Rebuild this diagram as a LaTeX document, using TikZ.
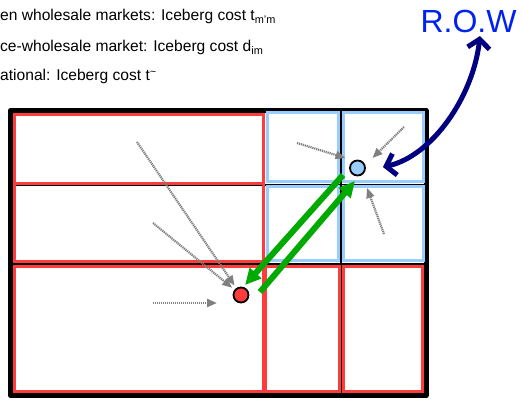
\documentclass[tikz,border=0pt]{standalone}
\usepackage{fontspec}
\setmainfont{Liberation Sans}
\usetikzlibrary{arrows.meta}
\definecolor{redcell}{HTML}{FF3B3B}
\definecolor{bluecell}{HTML}{99CCFF}
\definecolor{flowgreen}{HTML}{00AA00}
\definecolor{rownavy}{HTML}{000080}
\definecolor{rowblue}{HTML}{0022EE}

\begin{document}
\begin{tikzpicture}[x=1pt, y=-1pt, font=\fontsize{15.6}{18}\selectfont,
  frame/.style={line width=5pt, line cap=round, line join=round},
  gridline/.style={line width=2pt},
  redcellbox/.style={draw=redcell, line width=3pt},
  bluecellbox/.style={draw=bluecell, line width=3pt},
  market/.style={circle, draw, line width=1.8pt, minimum size=15pt, inner sep=0pt},
  feeder/.style={draw=gray, line width=2.2pt, dash pattern=on 1.2pt off 0.8pt, -{Triangle[length=10pt, width=8pt]}},
  tradeflow/.style={draw=flowgreen, line width=6pt, -{Triangle[length=16pt, width=15pt]}},
  rowlink/.style={draw=rownavy, line width=5pt, line cap=round,
    {Straight Barb[length=9pt, width=22pt]}-{Straight Barb[length=9pt, width=22pt]}},
  caption/.style={anchor=base west, inner sep=0pt}
]
  \useasboundingbox (0,0) rectangle (523,401);
  \draw[frame] (10.5,110.5) rectangle (426,395.5);
  \draw[gridline] (10.5,185) -- (426,185);  \draw[gridline] (10.5,264) -- (426,264);
  \draw[gridline] (264,110.5) -- (264,395.5); \draw[gridline] (341,110.5) -- (341,395.5);
  \draw[redcellbox] (14,115) rectangle (263,184);
  \draw[redcellbox] (14,184) rectangle (263,262);
  \draw[redcellbox] (14,267) rectangle (263,391);
  \draw[redcellbox] (265,267) rectangle (339,391);
  \draw[redcellbox] (343,267) rectangle (422,391);
  \draw[bluecellbox] (267,113) rectangle (338,182); \draw[bluecellbox] (343,113) rectangle (423,182);
  \draw[bluecellbox] (267,187) rectangle (338,261); \draw[bluecellbox] (343,187) rectangle (423,261);
  \node[caption] (capa) at (0,21) {en wholesale markets: Iceberg cost t\textsubscript{m'm}};
  \node[caption] (capb) at (0,52) {ce-wholesale market: Iceberg cost d\textsubscript{im}};
  \node[caption] (capc) at (0,81) {ational: Iceberg cost t\textsuperscript{\textasciitilde}};
  \node[anchor=base, inner sep=0pt, text=rowblue, font=\fontsize{32}{36}\selectfont] (row) at (468.5,33) {R.O.W};
  \node[market, fill=redcell]  (redm)  at (241,295)   {};
  \node[market, fill=bluecell] (bluem) at (357.5,168) {};
  \coordinate (fa) at (137,142); \coordinate (fb) at (153,223); \coordinate (fc) at (153,303);
  \coordinate (fd) at (297,143); \coordinate (fe) at (404,127); \coordinate (ff) at (384,234);
  \draw[feeder, shorten >=3pt] (fa) -- (redm);
  \draw[feeder, shorten >=3pt] (fb) -- (redm);
  \draw[feeder] (fc) -- ([shift={(-24,8)}]redm.center);
  \draw[feeder] (fd) -- ([shift={(-12,-10)}]bluem.center);
  \draw[feeder] (fe) -- ([shift={(15,-10)}]bluem.center);
  \draw[feeder] (ff) -- ([shift={(9.5,20)}]bluem.center);
  \draw[tradeflow] ([shift={(-14.5,7)}]bluem.center) -- ([shift={(4,-10)}]redm.center);
  \draw[tradeflow] ([shift={(19,-3)}]redm.center) -- ([shift={(-2.5,13)}]bluem.center);
  \draw[rowlink] ([shift={(11.5,3)}]row.base) .. controls (473,97) and (432,156) .. ([shift={(17,-1)}]bluem.east);
\end{tikzpicture}
\end{document}
